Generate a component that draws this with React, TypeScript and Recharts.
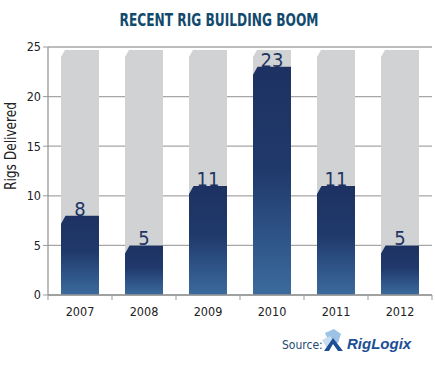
import React from 'react';
import { BarChart, Bar, XAxis, YAxis, CartesianGrid, LabelList } from 'recharts';

const years = ['2007', '2008', '2009', '2010', '2011', '2012'];
const rigsDelivered = [8, 5, 11, 23, 11, 5];
const yTicks = [0, 5, 10, 15, 20, 25];
const yMax = 25;

const data = years.map((year, i) => ({ year, rigs: rigsDelivered[i] }));

const FONT = '"Liberation Sans Narrow", "DejaVu Sans Condensed", Arial, sans-serif';
const W = 435;
const H = 367;
const PLOT_LEFT = 48;
const PLOT_RIGHT = 432;
const BAND = (PLOT_RIGHT - PLOT_LEFT) / years.length;

// bar with the top-left corner cut off
const chamferPath = (x: number, y: number, w: number, h: number, cx: number, cy: number) => {
  if (h <= 0) return '';
  return `M${x},${y + h} L${x},${y + cy} L${x + cx},${y} L${x + w},${y} L${x + w},${y + h} Z`;
};

const BlueBar = (props: any) => {
  const { x, y, width, height } = props;
  return <path d={chamferPath(x, y, width, height, 4.5, 8)} fill="url(#rigGrad)" />;
};

const GreyBar = (props: any) => {
  const { x, y, width, height } = props;
  return <path d={chamferPath(x, y + 3, width, height - 3, 4, 7)} fill="#d1d2d4" />;
};

const XTick = (props: any) => {
  const { x, y, payload, index } = props;
  return (
    <g>
      <line x1={x - BAND / 2} x2={x - BAND / 2} y1={y - 8} y2={y - 3} stroke="#999" />
      {index === years.length - 1 && (
        <line x1={x + BAND / 2} x2={x + BAND / 2} y1={y - 8} y2={y - 3} stroke="#999" />
      )}
      <text x={x} y={y + 13} textAnchor="middle" fontSize={12.5} fill="#222" fontFamily={FONT}>
        {payload.value}
      </text>
    </g>
  );
};

export default function App() {
  return (
    <div style={{ position: 'absolute', left: 0, top: 0, width: W, height: H, background: '#fff' }}>
      <BarChart
        width={W}
        height={H}
        data={data}
        margin={{ top: 47, right: W - PLOT_RIGHT, bottom: 0, left: 18 }}
        barCategoryGap={13}
      >
        <defs>
          <linearGradient id="rigGrad" x1="0" y1="0" x2="0" y2="1">
            <stop offset="0%" stopColor="#1d3262" />
            <stop offset="45%" stopColor="#20396b" />
            <stop offset="100%" stopColor="#3b6b9e" />
          </linearGradient>
        </defs>
        <CartesianGrid vertical={false} stroke="#a6a6a6" strokeWidth={1.3} />
        <XAxis
          dataKey="year"
          tick={<XTick />}
          tickLine={false}
          axisLine={{ stroke: '#999', strokeWidth: 1.3 }}
          height={72}
        />
        <YAxis
          domain={[0, yMax]}
          ticks={yTicks}
          width={30}
          tickSize={5}
          tickLine={{ stroke: '#999' }}
          axisLine={{ stroke: '#999', strokeWidth: 1.3 }}
          tick={{ fontSize: 12.5, fill: '#222', fontFamily: FONT }}
        />
        <Bar
          dataKey="rigs"
          isAnimationActive={false}
          shape={<BlueBar />}
          background={<GreyBar />}
        >
          <LabelList
            dataKey="rigs"
            position="top"
            offset={0}
            fill="#1c3563"
            fontSize={20}
            fontFamily={FONT}
          />
        </Bar>
      </BarChart>
      <svg width={W} height={H} style={{ position: 'absolute', left: 0, top: 0, pointerEvents: 'none' }}>
        <text
          x={219}
          y={26}
          textAnchor="middle"
          fontSize={18}
          fontWeight="bold"
          fill="#124a6e"
          fontFamily={FONT}
          textLength={199}
          lengthAdjust="spacingAndGlyphs"
        >
          RECENT RIG BUILDING BOOM
        </text>
        <text
          x={0}
          y={0}
          transform="translate(16,146) rotate(-90)"
          textAnchor="middle"
          fontSize={15.5}
          fill="#222"
          fontFamily={FONT}
          textLength={88}
          lengthAdjust="spacingAndGlyphs"
        >
          Rigs Delivered
        </text>
        <text x={282} y={349} fontSize={12} fill="#1d4a72" fontFamily={FONT}>
          Source:
        </text>
        <g>
          <polygon points="325,333 334,329 341,334 338,343 330,344" fill="#9cc3e6" />
          <polygon points="322,340 330,336 335,342 327,348" fill="#c9ddf0" />
          <polygon points="324,351 333,338 343,351 338,351 333,344 329,351" fill="#1d4f95" />
        </g>
        <text x={347} y={349} fontSize={15} fontWeight="bold" fontStyle="italic" fill="#1c4f95" fontFamily="Arial, sans-serif">
          RigLogix
        </text>
      </svg>
    </div>
  );
}
